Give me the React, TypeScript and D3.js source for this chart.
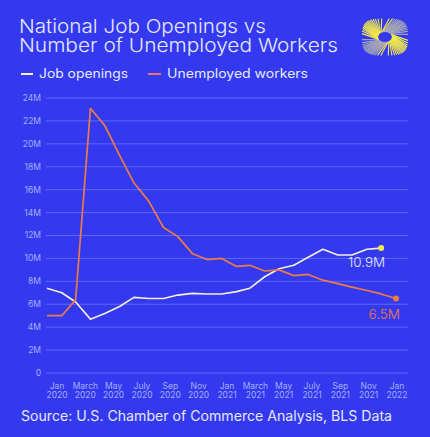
import * as d3 from 'd3'

const W = 430
const H = 437

// Monthly values, millions
const unemployed = [5.0, 5.0, 6.4, 23.1, 21.6, 19.0, 16.6, 15.0, 12.7, 11.9, 10.4, 9.9, 10.0, 9.3, 9.4, 8.9, 9.0, 8.5, 8.6, 8.1, 7.8, 7.5, 7.2, 6.9, 6.5]
const jobOpenings = [7.4, 7.0, 6.2, 4.7, 5.2, 5.8, 6.6, 6.5, 6.5, 6.8, 6.95, 6.9, 6.9, 7.1, 7.4, 8.4, 9.1, 9.4, 10.1, 10.8, 10.3, 10.3, 10.8, 10.9]

const yTicks = [0, 2, 4, 6, 8, 10, 12, 14, 16, 18, 20, 22, 24]
const xTickLabels = [
  ['Jan', '2020'], ['March', '2020'], ['May', '2020'], ['July', '2020'], ['Sep', '2020'], ['Nov', '2020'],
  ['Jan', '2021'], ['March', '2021'], ['May', '2021'], ['July', '2021'], ['Sep', '2021'], ['Nov', '2021'],
  ['Jan', '2022'],
]

const BG = '#3439f0'
const GRID = '#5b68fb'
const TICK = '#a3b0ff'
const TEXT = '#e4e8ff'
const WHITE_LINE = '#f5f0dc'
const ORANGE = '#ec7a45'
const YELLOW = '#f2ea4c'
const FONT = 'Inter, "Noto Sans", sans-serif'

const months = d3.timeMonth.range(new Date(2020, 0, 1), new Date(2022, 1, 1))

const x = d3.scaleTime().domain([months[0], months[months.length - 1]]).range([47, 396])
const xLabel = d3.scalePoint<number>().domain(xTickLabels.map((_, i) => i)).range([57, 397])
const y = d3.scaleLinear().domain([0, 24]).range([373, 98])

const line = d3.line<number>()
  .x((_, i) => x(months[i]))
  .y(d => y(d))

function Logo({ cx, cy }: { cx: number; cy: number }) {
  // pinwheel of spokes between an inner ellipse and a rounded-square rim
  const n = 64
  const spokes = d3.range(n).map(i => {
    const a = (i / n) * Math.PI * 2
    const b = a + 0.55
    const c = Math.cos(b), s = Math.sin(b)
    const ox = 23 * Math.sign(c) * Math.pow(Math.abs(c), 0.6)
    const oy = 18.5 * Math.sign(s) * Math.pow(Math.abs(s), 0.6)
    const ix = 7 * Math.cos(a)
    const iy = 5 * Math.sin(a)
    const yellow = Math.sin(2 * a + 0.9) > -0.2
    return { x1: cx + ix, y1: cy + iy, x2: cx + ox, y2: cy + oy, color: yellow ? YELLOW : '#a9a9b4' }
  })
  return (
    <g>
      {spokes.map((d, i) => (
        <line key={i} x1={d.x1} y1={d.y1} x2={d.x2} y2={d.y2} stroke={d.color} strokeWidth={1.1} />
      ))}
      <ellipse cx={cx} cy={cy} rx={6.5} ry={4.8} fill={BG} />
    </g>
  )
}

export default function App() {
  const lastJob = jobOpenings.length - 1
  const lastUn = unemployed.length - 1
  return (
    <svg width={W} height={H} style={{ position: 'absolute', left: 0, top: 0, display: 'block' }} fontFamily={FONT}>
      <rect width={W} height={H} fill={BG} />

      <g fill={TEXT} fontSize={19} fontWeight={300}>
        <text x={19} y={33} textLength={247} lengthAdjust="spacingAndGlyphs">National Job Openings vs</text>
        <text x={19} y={52} textLength={319} lengthAdjust="spacingAndGlyphs">Number of Unemployed Workers</text>
      </g>

      <Logo cx={385} cy={37} />

      <g fontSize={12.5} fill={TEXT}>
        <line x1={21} x2={33} y1={74} y2={74} stroke={WHITE_LINE} strokeWidth={2} />
        <text x={39} y={78} textLength={89} lengthAdjust="spacingAndGlyphs">Job openings</text>
        <line x1={148} x2={161} y1={74} y2={74} stroke="#e8746a" strokeWidth={2} />
        <text x={167} y={78} textLength={141} lengthAdjust="spacingAndGlyphs">Unemployed workers</text>
      </g>

      {yTicks.map(t => (
        <g key={t}>
          <line x1={46} x2={408} y1={y(t)} y2={y(t)} stroke={GRID} strokeWidth={1} />
          <text x={41} y={y(t)} dy="0.35em" textAnchor="end" fontSize={8.5} fill={TICK}>
            {t === 0 ? '0' : `${t}M`}
          </text>
        </g>
      ))}

      {xTickLabels.map((l, i) => (
        <text key={i} x={xLabel(i)} textAnchor="middle" fontSize={8.5} fill={TICK}>
          <tspan x={xLabel(i)} y={389}>{l[0]}</tspan>
          <tspan x={xLabel(i)} y={398}>{l[1]}</tspan>
        </text>
      ))}

      <path d={line(jobOpenings) ?? ''} fill="none" stroke={WHITE_LINE} strokeWidth={1.6} strokeLinejoin="round" />
      <path d={line(unemployed) ?? ''} fill="none" stroke={ORANGE} strokeWidth={1.7} strokeLinejoin="round" />

      <circle cx={x(months[lastJob])} cy={y(jobOpenings[lastJob])} r={3} fill={YELLOW} />
      <circle cx={x(months[lastUn])} cy={y(unemployed[lastUn])} r={3} fill={ORANGE} />

      <text x={x(months[lastJob]) + 4} y={y(jobOpenings[lastJob]) + 19} textAnchor="end" fontSize={13.5} fontWeight={300} fill={TEXT}>
        {`${jobOpenings[lastJob]}M`}
      </text>
      <text x={x(months[lastUn]) + 4} y={y(unemployed[lastUn]) + 20} textAnchor="end" fontSize={13.5} fontWeight={300} fill={ORANGE}>
        {`${unemployed[lastUn]}M`}
      </text>

      <text x={21} y={421} fontSize={14} fill={TEXT} textLength={371} lengthAdjust="spacingAndGlyphs">
        Source: U.S. Chamber of Commerce Analysis, BLS Data
      </text>
    </svg>
  )
}
